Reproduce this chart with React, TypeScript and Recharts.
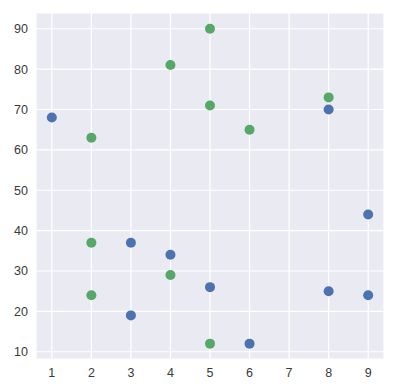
import { ScatterChart, Scatter, XAxis, YAxis, CartesianGrid } from 'recharts';

const blueX = [1, 3, 3, 4, 5, 6, 8, 8, 9, 9];
const blueY = [68, 37, 19, 34, 26, 12, 70, 25, 44, 24];
const greenX = [2, 2, 2, 4, 4, 5, 5, 5, 6, 8];
const greenY = [63, 37, 24, 81, 29, 90, 71, 12, 65, 73];

const xTicks = [1, 2, 3, 4, 5, 6, 7, 8, 9];
const yTicks = [10, 20, 30, 40, 50, 60, 70, 80, 90];

const blue = blueX.map((x, i) => ({ x, y: blueY[i] }));
const green = greenX.map((x, i) => ({ x, y: greenY[i] }));

const tickStyle = { fill: '#3a3a3a', fontSize: 12.5, fontFamily: 'Liberation Sans, Arial, sans-serif' };

const dot = (color: string) => (props: any) =>
  <circle cx={props.cx} cy={props.cy} r={5} fill={color} />;

export default function App() {
  return (
    <div style={{ position: 'absolute', left: 0, top: 0, width: 398, height: 389, background: '#fff' }}>
      <ScatterChart width={398} height={389} margin={{ top: 13, right: 14, bottom: 0, left: 0 }}>
        <CartesianGrid fill="#EAEAF2" stroke="#fff" strokeWidth={1.2} />
        <XAxis
          type="number"
          dataKey="x"
          domain={[0.6, 9.4]}
          ticks={xTicks}
          height={30}
          axisLine={false}
          tickLine={false}
          tickSize={6}
          tickMargin={3}
          tick={tickStyle}
        />
        <YAxis
          type="number"
          dataKey="y"
          domain={[8.2, 93.9]}
          ticks={yTicks}
          width={36}
          axisLine={false}
          tickLine={false}
          tickSize={6}
          tickMargin={2}
          tick={tickStyle}
        />
        <Scatter data={blue} shape={dot('#4C72B0')} isAnimationActive={false} />
        <Scatter data={green} shape={dot('#55A868')} isAnimationActive={false} />
      </ScatterChart>
    </div>
  );
}
